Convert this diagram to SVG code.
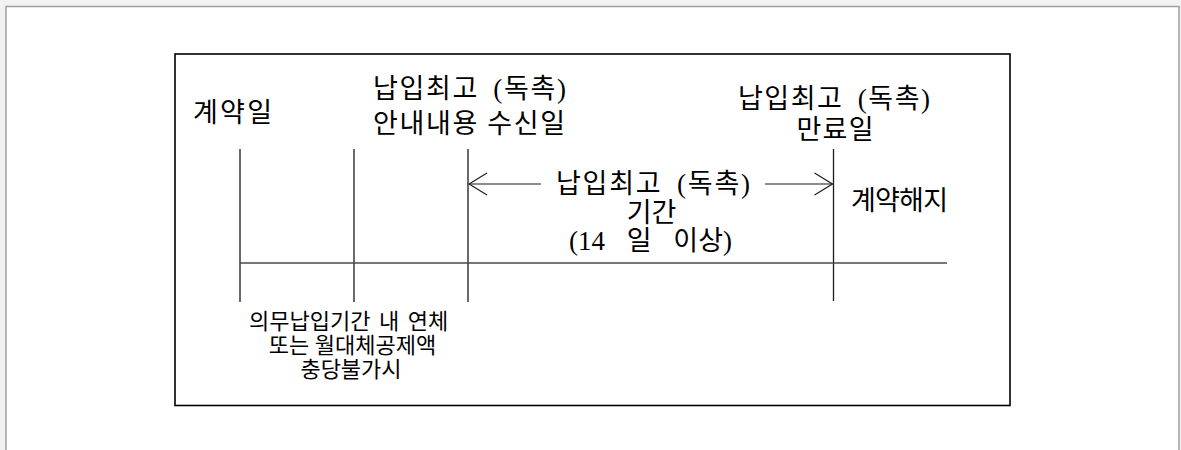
<svg xmlns="http://www.w3.org/2000/svg" width="1181" height="450" viewBox="0 0 1181 450">
  <style>
    .t { font-family: 'Liberation Serif', 'Noto Sans CJK KR', serif; fill: #000; }
    .big { font-size: 27px; }
    .small { font-size: 22px; }
    .v { stroke: #1a1a1a; stroke-width: 1.3; fill: none; }
    .h { stroke: #4a4a4a; stroke-width: 1.5; fill: none; }
    .arr { stroke: #1a1a1a; stroke-width: 1.2; fill: none; }
  </style>
  <defs>
    <marker id="open" viewBox="0 0 20 24" refX="19" refY="12" markerWidth="20" markerHeight="24" markerUnits="userSpaceOnUse" orient="auto">
      <path d="M1,1 L19,12 L1,23" fill="none" stroke="#1a1a1a" stroke-width="1.2"/>
    </marker>
  </defs>
  <rect x="0" y="0" width="1181" height="450" fill="#f2f2f2"/>
  <rect x="6" y="6.5" width="1173" height="450" fill="#ffffff" stroke="#a0a0a0" stroke-width="1.5"/>
  <rect x="175" y="54" width="835" height="351.5" fill="#ffffff" stroke="#000" stroke-width="1.6"/>

  <g id="connectors">
    <line class="v" x1="240" y1="149" x2="240" y2="302"/>
    <line class="v" x1="354" y1="149" x2="354" y2="302"/>
    <line class="v" x1="468" y1="149" x2="468" y2="302"/>
    <line class="v" x1="833.5" y1="149" x2="833.5" y2="301"/>
    <line class="h" x1="240" y1="263" x2="947" y2="263"/>
    <line class="arr" x1="541" y1="184" x2="469" y2="184" marker-end="url(#open)"/>
    <line class="arr" x1="765" y1="184" x2="832.5" y2="184" marker-end="url(#open)"/>
  </g>

  <g id="node-contract-date">
    <text class="t big" x="193" y="121.5" textLength="79" lengthAdjust="spacing">계약일</text>
  </g>
  <g id="node-notice-received">
    <text class="t big" x="373" y="98" textLength="193" lengthAdjust="spacing">납입최고 <tspan dx="6">(독촉)</tspan></text>
    <text class="t big" x="373" y="133" textLength="192" lengthAdjust="spacing">안내내용 수신일</text>
  </g>
  <g id="node-expiry">
    <text class="t big" x="738" y="108" textLength="192" lengthAdjust="spacing">납입최고 <tspan dx="6">(독촉)</tspan></text>
    <text class="t big" x="835" y="138.5" text-anchor="middle" textLength="77" lengthAdjust="spacing">만료일</text>
  </g>
  <g id="node-period">
    <text class="t big" x="556" y="192.5" textLength="194" lengthAdjust="spacing">납입최고 <tspan dx="6">(독촉)</tspan></text>
    <text class="t big" x="651.5" y="222" text-anchor="middle">기간</text>
    <text class="t big" x="569" y="250">(14 <tspan dx="15">일</tspan> <tspan dx="15">이상)</tspan></text>
  </g>
  <g id="node-termination">
    <text class="t big" x="851" y="210" textLength="97" lengthAdjust="spacing">계약해지</text>
  </g>
  <g id="node-arrears">
    <text class="t small" x="249" y="328.5">의무납입기간 <tspan dx="3">내</tspan> <tspan dx="3">연체</tspan></text>
    <text class="t small" x="352.5" y="352.5" text-anchor="middle">또는 월대체공제액</text>
    <text class="t small" x="351" y="376.5" text-anchor="middle">충당불가시</text>
  </g>
</svg>
